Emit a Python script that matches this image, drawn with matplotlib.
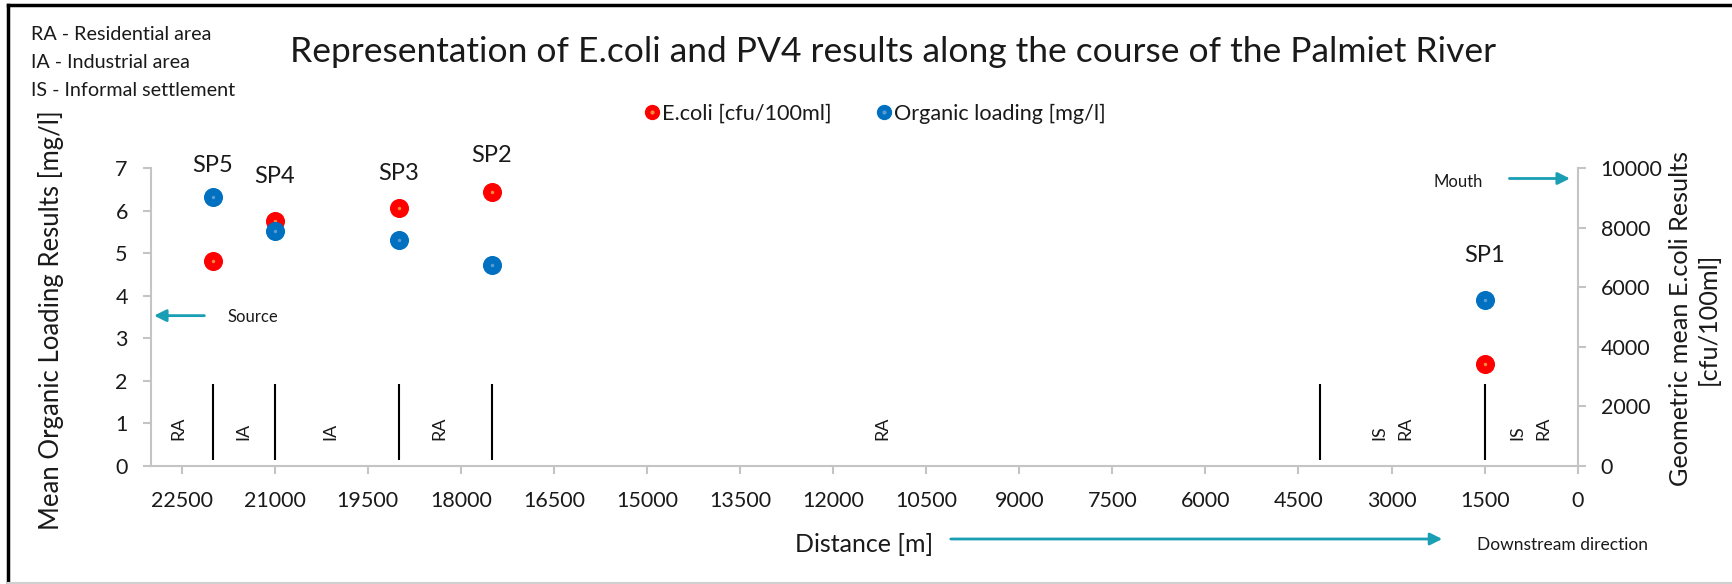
import matplotlib.pyplot as plt
from matplotlib.lines import Line2D
from matplotlib.legend_handler import HandlerTuple

plt.rcParams['font.family'] = ['Lato', 'DejaVu Sans']

# ---------------- DATA -----------------
sites = ["SP5", "SP4", "SP3", "SP2", "SP1"]
distance_m = [22000, 21000, 19000, 17500, 1500]
ecoli = [6870, 8220, 8670, 9200, 3400]          # cfu/100ml (right axis)
organic = [6.32, 5.52, 5.32, 4.72, 3.90]         # mg/l (left axis)

# land-use boundaries and zone labels
boundaries_m = [22000, 21000, 19000, 17500, 4150, 1500]
zone_labels = ["RA", "IA", "IA", "RA", "RA", "IS", "RA", "IS", "RA"]
zone_x = [22550, 21500, 20100, 18350, 11200, 3200, 2780, 980, 560]

x_ticks = list(range(22500, -1, -1500))

RED = "#FF0000"
RED_DOT = "#F08A3C"
BLUE = "#0070C0"
BLUE_DOT = "#5B9BD5"
TEAL = "#1A9EB4"
GREY = "#C4C4C4"
TXT = "#1A1A1A"

W, H = 1732, 584
fig = plt.figure(figsize=(W / 100, H / 100), dpi=100)
ax = fig.add_axes([0.0870, 0.2029, 0.8239, 0.5089])
ax2 = ax.twinx()

# blue points need to sit on top of the red ones
ax.set_zorder(ax2.get_zorder() + 1)
ax.patch.set_visible(False)

ax2.plot(distance_m, ecoli, 'o', ms=12.7, color=RED, mec=RED, zorder=3)
ax2.plot(distance_m, ecoli, 'o', ms=2.5, color=RED_DOT, mec='none', zorder=4)
ax.plot(distance_m, organic, 'o', ms=12.7, color=BLUE, mec=BLUE, zorder=3)
ax.plot(distance_m, organic, 'o', ms=2.5, color=BLUE_DOT, mec='none', zorder=4)

ax.set_xlim(23000, 0)
ax.set_ylim(0, 7)
ax2.set_ylim(0, 10000)
ax.set_xticks(x_ticks)
ax.set_yticks(range(0, 8))
ax2.set_yticks(range(0, 10001, 2000))

for a in (ax, ax2):
    for s in a.spines.values():
        s.set_color(GREY)
        s.set_linewidth(1.5)
    a.spines['top'].set_visible(False)
    a.tick_params(colors=GREY, labelcolor=TXT, length=6, width=1.5, labelsize=15.5)
ax.spines['right'].set_visible(False)
ax2.spines['left'].set_visible(False)
ax2.spines['bottom'].set_visible(False)
ax.tick_params(axis='y', pad=10.5)
ax.tick_params(axis='x', pad=12)
ax2.tick_params(axis='y', pad=10.5)

ax.set_xlabel("Distance [m]", fontsize=18, color=TXT, labelpad=16)

# axis titles placed as figure text (centred like the original)
fig.text(51 / W, 1 - 320 / H, "Mean Organic Loading Results [mg/l]", rotation=90,
         ha='center', va='center', fontsize=18.5, color=TXT)
fig.text(1694 / W, 1 - 319 / H, "Geometric mean E.coli Results\n[cfu/100ml]", rotation=90,
         ha='center', va='center', multialignment='center', fontsize=18.2,
         color=TXT, linespacing=1.25)

# boundaries between land-use zones
ax.vlines(boundaries_m, 0.13, 1.92, color='black', lw=1.5)
for lab, xz in zip(zone_labels, zone_x):
    ax.text(xz, 0.6, lab, rotation=90, ha='center', va='bottom', fontsize=13, color=TXT)

# site labels above the upper marker of each pair
label_off = [23, 32, 25, 26, 32]
for name, xd, org, ec, off in zip(sites, distance_m, organic, ecoli, label_off):
    top = max(org, ec * 7 / 10000)
    ax.annotate(name, (xd, top), xytext=(0, off), textcoords='offset points',
                ha='center', va='center', fontsize=17, color=TXT)

# source / mouth arrows
ax.annotate('', xy=(22990, 3.53), xytext=(22090, 3.53),
            arrowprops=dict(arrowstyle='-|>', color=TEAL, lw=2, mutation_scale=18))
ax.text(21760, 3.49, "Source", ha='left', va='center', fontsize=12, color=TXT)
ax.annotate('', xy=(80, 6.76), xytext=(1145, 6.76),
            arrowprops=dict(arrowstyle='-|>', color=TEAL, lw=2, mutation_scale=18))
ax.text(1522, 6.68, "Mouth", ha='right', va='center', fontsize=12, color=TXT)

# downstream arrow below the axis
ax.annotate('', xy=(1445, 45), xytext=(948, 45), xycoords='figure pixels',
            textcoords='figure pixels',
            arrowprops=dict(arrowstyle='-|>', color=TEAL, lw=2, mutation_scale=18))
fig.text(1477 / W, 1 - 545 / H, "Downstream direction", ha='left', va='center',
         fontsize=12.5, color=TXT)

# title and key
fig.text(893 / W, 1 - 52 / H,
         "Representation of E.coli and PV4 results along the course of the Palmiet River",
         ha='center', va='center', fontsize=25.5, color=TXT)
for i, line in enumerate(["RA - Residential area", "IA - Industrial area",
                          "IS - Informal settlement"]):
    fig.text(31 / W, 1 - (35 + 27.5 * i) / H, line, ha='left', va='center',
             fontsize=14.2, color=TXT)

h_red = (Line2D([], [], ls='', marker='o', ms=10, color=RED),
         Line2D([], [], ls='', marker='o', ms=2, color=RED_DOT))
h_blue = (Line2D([], [], ls='', marker='o', ms=10, color=BLUE),
          Line2D([], [], ls='', marker='o', ms=2, color=BLUE_DOT))
fig.legend([h_red, h_blue], ["E.coli [cfu/100ml]", "Organic loading [mg/l]"],
           handler_map={tuple: HandlerTuple(ndivide=1)},
           loc='center', bbox_to_anchor=(875 / W, 1 - 114 / H), ncol=2,
           frameon=False, fontsize=15.6, handlelength=0.7, handletextpad=0.1,
           columnspacing=2.1, labelcolor=TXT)

# chart frame: black top/left, light grey bottom
fig.add_artist(plt.Line2D([8 / W, 8 / W], [0, 1 - 5 / H], color='black', lw=2.5,
                          transform=fig.transFigure))
fig.add_artist(plt.Line2D([8 / W, 1], [1 - 5 / H, 1 - 5 / H], color='black', lw=2.5,
                          transform=fig.transFigure))
fig.add_artist(plt.Line2D([8 / W, 1], [1 / H, 1 / H], color='#D0D0D0', lw=1.5,
                          transform=fig.transFigure))

fig.savefig("out.png", dpi=100)
